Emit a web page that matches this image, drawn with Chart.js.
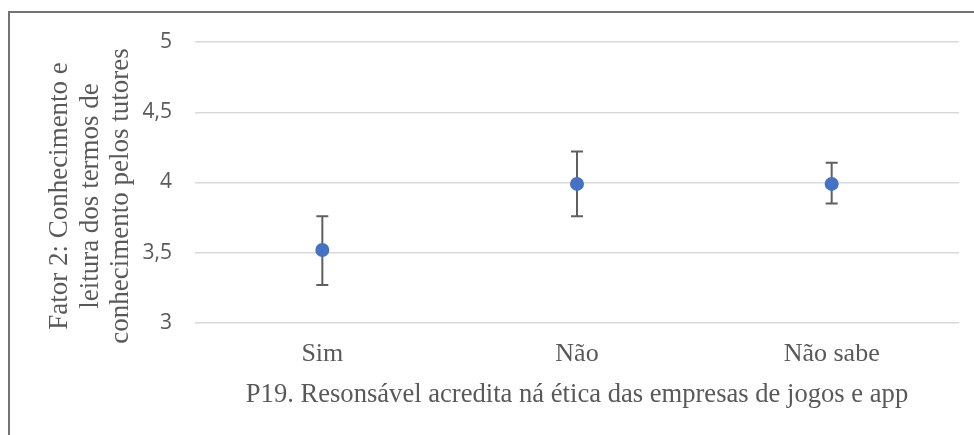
<!DOCTYPE html>
<html>
<head>
<meta charset="utf-8">
<script src="https://cdn.jsdelivr.net/npm/chart.js@4/dist/chart.umd.min.js"></script>
<style>
  html, body { margin: 0; padding: 0; background: #ffffff; overflow: hidden; }
  #wrap { position: relative; width: 974px; height: 435px; overflow: hidden; }
  #frame { position: absolute; left: 8px; top: 11px; width: 1000px; height: 500px;
           border: 2px solid #737373; box-sizing: border-box; }
  #chart { position: absolute; left: 0; top: 0; }
</style>
</head>
<body>
<div id="wrap">
  <div id="frame"></div>
  <canvas id="chart" width="974" height="435"></canvas>
</div>
<script>
// Group means with their interval bounds
const categories = ['Sim', 'Não', 'Não sabe'];
const means = [3.52, 3.99, 3.99];
const lowerBounds = [3.27, 3.76, 3.85];
const upperBounds = [3.76, 4.22, 4.14];
const yTicks = [3, 3.5, 4, 4.5, 5];
const xTitle = 'P19. Resonsável acredita ná ética das empresas de jogos e app';
const yTitleLines = ['Fator 2: Conhecimento e', 'leitura dos termos de', 'conhecimento pelos tutores'];

const SERIF = '"Liberation Serif", "Times New Roman", serif';
const SANS = '"Open Sans", "Liberation Sans", sans-serif';
const TEXT_COLOR = '#595959';

// Whiskers drawn under the points, positioned through the y scale
const errorBars = {
  id: 'errorBars',
  beforeDatasetsDraw(chart) {
    const ctx = chart.ctx;
    const y = chart.scales.y;
    const meta = chart.getDatasetMeta(0);
    ctx.save();
    ctx.strokeStyle = '#5f5f5f';
    ctx.lineWidth = 2;
    meta.data.forEach((pt, i) => {
      const x = pt.x;
      const yTop = y.getPixelForValue(upperBounds[i]);
      const yBot = y.getPixelForValue(lowerBounds[i]);
      const cap = 6;
      ctx.beginPath();
      ctx.moveTo(x, yTop); ctx.lineTo(x, yBot);
      ctx.moveTo(x - cap, yTop); ctx.lineTo(x + cap, yTop);
      ctx.moveTo(x - cap, yBot); ctx.lineTo(x + cap, yBot);
      ctx.stroke();
    });
    ctx.restore();
  }
};

// Three-line rotated title for the value axis
const yAxisTitle = {
  id: 'yAxisTitle',
  afterDraw(chart) {
    const ctx = chart.ctx;
    ctx.save();
    ctx.fillStyle = TEXT_COLOR;
    ctx.font = '27px ' + SERIF;
    ctx.textAlign = 'center';
    ctx.textBaseline = 'alphabetic';
    ctx.translate(0, 196);
    ctx.rotate(-Math.PI / 2);
    const baselines = [67, 97.5, 128];
    yTitleLines.forEach((line, i) => {
      ctx.fillText(line, 0, baselines[i]);
    });
    ctx.restore();
  }
};

new Chart(document.getElementById('chart'), {
  type: 'line',
  data: {
    labels: categories,
    datasets: [{
      data: means,
      showLine: false,
      pointRadius: 7,
      pointHoverRadius: 7,
      pointBackgroundColor: '#4472C4',
      pointBorderColor: '#4472C4',
      pointBorderWidth: 0
    }]
  },
  options: {
    responsive: false,
    animation: false,
    events: [],
    layout: { padding: { top: 42, right: 15, left: 0, bottom: 0 } },
    plugins: { legend: { display: false }, tooltip: { enabled: false } },
    scales: {
      x: {
        type: 'category',
        offset: true,
        grid: { display: false, drawTicks: false },
        border: { display: false },
        ticks: { color: TEXT_COLOR, font: { family: SERIF, size: 26 }, padding: 16 },
        title: {
          display: true, text: xTitle, color: TEXT_COLOR,
          font: { family: SERIF, size: 26.6 }, padding: { top: 4, bottom: 24 }
        },
        afterFit(scale) { scale.height = 112; }
      },
      y: {
        min: 3, max: 5,
        afterBuildTicks(scale) { scale.ticks = yTicks.map(v => ({ value: v })); },
        grid: { color: '#d9d9d9', lineWidth: 1.5, drawTicks: false },
        border: { display: false },
        ticks: {
          color: TEXT_COLOR, font: { family: SANS, size: 21 }, padding: 23,
          callback: v => String(v).replace('.', ',')
        },
        afterFit(scale) { scale.width = 195; }
      }
    }
  },
  plugins: [errorBars, yAxisTitle]
});
</script>
</body>
</html>
